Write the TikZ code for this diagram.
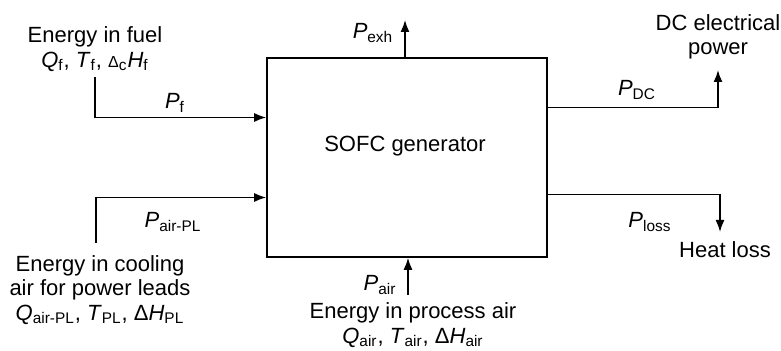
\documentclass[tikz,border=0pt]{standalone}
\usepackage{fontspec}
\setmainfont{Liberation Sans}
\usetikzlibrary{arrows.meta,positioning,calc}
\newcommand{\qty}[2]{\textit{#1}\textsubscript{#2}}

\begin{document}
\begin{tikzpicture}[x=0.5pt, y=-0.5pt, every node/.style={font=\fontsize{11}{12.2}\selectfont},
    flow/.style={-{Latex[length=6pt,width=4.5pt]}, line width=0.8pt},
    txt/.style={align=center, inner sep=0pt}]
        \useasboundingbox (0,0) rectangle (781,351);
        \node[draw, line width=0.8pt, minimum width=140pt, minimum height=99.5pt] (gen) at (407,157.5) {};
        \node[inner sep=0pt] (gentxt) at (405,146) {SOFC generator};
        % inputs
        \node[txt] (fuel) at (95,49) {Energy in fuel\\\qty{Q}{f}, \qty{T}{f}, {\footnotesize Δ}\textsubscript{c}\qty{H}{f}};
        \node[txt] (coolair) at (100,290) {Energy in cooling\\air for power leads\\\qty{Q}{air-PL}, \qty{T}{PL}, Δ\qty{H}{PL}};
        \node[txt] (procair) at (413,325) {Energy in process air\\\qty{Q}{air}, \qty{T}{air}, Δ\qty{H}{air}};
        % outputs
        \node[txt] (dcpower) at (718,37) {DC electrical\\power};
        \node[txt] (heatloss) at (725,250) {Heat loss};
        \coordinate (fuelfoot) at (95,77);
        \coordinate (plfoot) at (96,243);
        \coordinate (airfoot) at (408,295);
        \coordinate (exhtip) at (405,20);
        \coordinate (dctip) at (718,70);
        \coordinate (losstip) at (720,232);
        \draw[flow] (fuelfoot) |- ([yshift=20pt]gen.west);
        \draw[flow] (plfoot) |- ([yshift=-20pt]gen.west);
        \draw[flow] (airfoot) -- (airfoot |- gen.south);
        \draw[flow] (gen.north -| exhtip) -- (exhtip);
        \draw[flow] ([yshift=25pt]gen.east) -| (dctip);
        \draw[flow] ([yshift=-18.5pt]gen.east) -| (losstip);
        % flow labels
        \node (pf) at (175,103) {\qty{P}{f}};
        \node (ppl) at (173,222) {\qty{P}{air-PL}};
        \node (pexh) at (373,33) {\qty{P}{exh}};
        \node (pair) at (380,285) {\qty{P}{air}};
        \node (pdc) at (637,90) {\qty{P}{DC}};
        \node (ploss) at (650,222) {\qty{P}{loss}};
    \end{tikzpicture}
\end{document}
